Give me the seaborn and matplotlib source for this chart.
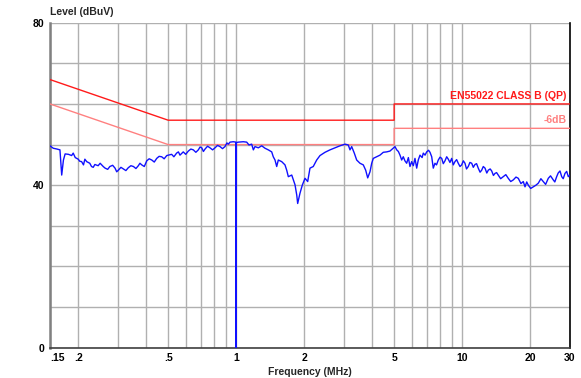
import matplotlib
matplotlib.use("Agg")
import matplotlib.pyplot as plt
import seaborn as sns
import pandas as pd
from matplotlib.ticker import FixedLocator, FixedFormatter, NullFormatter

# Measured conducted emission scan (frequency in MHz, level in dBuV)
freq_mhz = [
    0.150, 0.155, 0.161, 0.166, 0.169, 0.172, 0.175, 0.181, 0.187, 0.194,
    0.200, 0.207, 0.211, 0.218, 0.225, 0.229, 0.237, 0.245, 0.258, 0.263,
    0.276, 0.291, 0.301, 0.317, 0.333, 0.351, 0.369, 0.382, 0.402, 0.423,
    0.445, 0.468, 0.493, 0.518, 0.545, 0.564, 0.583, 0.614, 0.646, 0.680,
    0.704, 0.728, 0.766, 0.806, 0.848, 0.892, 0.923, 0.939, 0.971, 0.998,
    1.000, 1.002, 1.022, 1.075, 1.113, 1.139, 1.171, 1.191, 1.211, 1.253,
    1.297, 1.341, 1.387, 1.436, 1.459, 1.485, 1.511, 1.536, 1.590, 1.644,
    1.673, 1.701, 1.761, 1.790, 1.821, 1.853, 1.871, 1.915, 1.961, 2.016,
    2.072, 2.121, 2.193, 2.271, 2.349, 2.472, 2.601, 2.736, 2.880, 3.030,
    3.133, 3.188, 3.244, 3.331, 3.413, 3.530, 3.651, 3.741, 3.819, 3.909,
    3.978, 4.043, 4.185, 4.328, 4.476, 4.633, 4.791, 4.955, 5.043, 5.132,
    5.307, 5.399, 5.488, 5.681, 5.875, 5.978, 6.182, 6.291, 6.393, 6.506,
    6.729, 6.966, 7.205, 7.331, 7.449, 7.579, 7.839, 8.117, 8.394, 8.681,
    8.987, 9.134, 9.291, 9.609, 9.949, 10.29, 10.64, 11.02, 11.39, 11.78,
    12.20, 12.62, 13.05, 13.51, 13.97, 14.44, 15.20, 15.99, 16.83, 17.71,
    18.64, 18.97, 19.62, 20.64, 21.72, 22.85, 24.05, 25.30, 26.19, 27.09,
    27.57, 28.50, 29.49, 30.00,
]
level_dbuv = [
    49.7, 49.1, 48.9, 48.7, 42.5, 46.2, 47.7, 47.6, 47.3, 46.8,
    46.4, 45.8, 45.0, 45.8, 45.4, 44.6, 45.1, 44.8, 44.6, 44.2,
    44.6, 44.2, 43.7, 44.0, 44.3, 44.6, 44.8, 45.0, 46.0, 46.2,
    46.6, 47.0, 47.3, 47.6, 47.9, 47.4, 48.2, 48.4, 48.7, 48.7,
    49.2, 48.9, 49.2, 49.2, 49.5, 49.5, 50.1, 50.6, 50.7, 50.6,
    0.0, 50.5, 50.6, 50.7, 50.6, 49.9, 50.1, 48.7, 49.5, 49.2,
    49.7, 49.1, 48.7, 48.2, 47.0, 46.2, 44.6, 46.2, 45.8, 45.0,
    43.7, 42.1, 42.5, 41.3, 40.1, 37.6, 35.5, 38.0, 40.0, 41.7,
    40.9, 44.2, 44.6, 46.2, 47.3, 48.1, 48.7, 49.2, 49.7, 50.1,
    49.9, 48.7, 49.5, 47.9, 46.2, 45.4, 45.0, 43.7, 41.8, 43.3,
    45.4, 46.6, 47.0, 47.4, 48.1, 48.2, 48.4, 49.1, 49.5, 48.7,
    47.4, 46.2, 47.0, 45.4, 44.6, 45.8, 46.6, 44.2, 46.2, 47.4,
    47.9, 48.2, 48.1, 47.0, 44.2, 45.4, 46.2, 46.6, 46.0, 46.4,
    46.6, 45.0, 45.8, 45.4, 45.0, 45.4, 44.6, 45.4, 45.1, 44.2,
    43.7, 44.2, 43.7, 43.5, 42.9, 42.5, 42.1, 41.7, 41.3, 41.7,
    40.9, 39.6, 40.0, 39.6, 40.5, 40.9, 41.7, 41.3, 42.1, 43.5,
    42.1, 42.9, 42.1, 42.5,
]

# Extra readings between the main sweep points (ripple on the trace)
ripple_freq = [
    0.190, 0.203, 0.214, 0.233, 0.250, 0.270, 0.284, 0.296, 0.309, 0.325,
    0.342, 0.360, 0.375, 0.392, 0.412, 0.434, 0.456, 0.480,
    0.530, 0.555, 0.598, 0.630, 0.663, 0.692, 0.716, 0.747, 0.786, 0.827,
    0.870, 0.910,
    5.22, 5.58, 5.78, 6.08, 6.65, 6.85, 7.10, 7.70, 7.98, 8.25,
    8.54, 8.83, 9.45, 9.78, 10.12,
    10.45, 10.82, 11.20, 11.58, 12.00, 12.40, 12.85, 13.30, 13.75, 14.20,
    14.80, 15.60, 16.40, 17.30, 18.20, 19.30, 20.10, 21.20, 22.30, 23.40,
    24.60, 25.70, 26.60, 28.00, 29.00,
]
ripple_level = [
    47.9, 45.9, 46.4, 44.4, 45.4, 43.9, 44.9, 43.3, 44.4, 43.6,
    44.8, 44.1, 45.4, 44.6, 46.5, 45.7, 47.1, 46.5,
    47.0, 48.2, 47.6, 48.9, 48.1, 49.4, 48.3, 49.6, 48.7, 49.8,
    49.0, 50.4,
    48.3, 46.0, 46.8, 44.8, 46.8, 47.4, 48.6, 45.0, 46.9, 45.3,
    47.0, 45.6, 46.3, 44.6, 46.0,
    44.0, 45.6, 44.4, 45.3, 43.2, 44.6, 43.0, 44.0, 42.4, 43.1,
    41.6, 42.6, 40.9, 42.0, 40.4, 40.8, 39.2, 40.0, 41.6, 40.2,
    42.3, 40.8, 43.0, 41.6, 43.4,
]

# EN55022 class B quasi-peak limit and the -6 dB margin line
limit_freq = [0.15, 0.5, 5.0, 5.0, 30.0]
limit_qp = [66.0, 56.0, 56.0, 60.0, 60.0]
margin_db = 6.0
limit_margin = [v - margin_db for v in limit_qp]

x_tick_values = [0.15, 0.2, 0.5, 1, 2, 5, 10, 20, 30]
x_tick_labels = [".15", ".2", ".5", "1", "2", "5", "10", "20", "30"]
x_minor_grid = [0.3, 0.4, 0.6, 0.7, 0.8, 0.9, 3, 4, 6, 7, 8, 9]
y_grid = [0, 10, 20, 30, 40, 50, 60, 70, 80]
y_tick_labels = ["0", "", "", "", "40", "", "", "", "80"]

scan = pd.DataFrame({"freq": freq_mhz + ripple_freq,
                     "level": level_dbuv + ripple_level})
scan = scan.sort_values("freq").reset_index(drop=True)
limits = pd.DataFrame({"freq": limit_freq, "qp": limit_qp, "margin": limit_margin})

sns.set_theme(style="white")
plt.rcParams["font.family"] = ["Liberation Sans", "DejaVu Sans"]
plt.rcParams["font.weight"] = "bold"

W, H = 581, 378
fig = plt.figure(figsize=(W / 100, H / 100), dpi=100)
ax = fig.add_axes([50 / W, (H - 347.7) / H, 520 / W, 325 / H])

grid_col = "#b0b0b0"
sns.lineplot(data=limits, x="freq", y="margin", ax=ax, color="#ff8080",
             lw=1.0, sort=False, estimator=None, zorder=3)
sns.lineplot(data=limits, x="freq", y="qp", ax=ax, color="#ff1a1a",
             lw=1.0, sort=False, estimator=None, zorder=3)
sns.lineplot(data=scan, x="freq", y="level", ax=ax, color="#1010ff",
             lw=1.0, sort=False, estimator=None, zorder=4)

ax.set_xscale("log")
ax.set_xlim(0.15, 30)
ax.set_ylim(0, 80)

ax.xaxis.set_major_locator(FixedLocator(x_tick_values))
ax.xaxis.set_major_formatter(FixedFormatter(x_tick_labels))
ax.xaxis.set_minor_locator(FixedLocator(x_minor_grid))
ax.xaxis.set_minor_formatter(NullFormatter())
ax.yaxis.set_major_locator(FixedLocator(y_grid))
ax.yaxis.set_major_formatter(FixedFormatter(y_tick_labels))

ax.grid(True, which="both", color=grid_col, lw=1.0, zorder=0)
ax.set_axisbelow(True)
ax.tick_params(which="both", length=0)
ax.tick_params(axis="x", pad=4, labelsize=7.5)
ax.tick_params(axis="y", pad=4, labelsize=7.5)
for lab in ax.get_xticklabels() + ax.get_yticklabels():
    lab.set_fontweight("bold")
    lab.set_color("black")
ax.get_xticklabels()[0].set_horizontalalignment("left")

ax.set_xlabel("Frequency (MHz)", fontsize=7.5, fontweight="bold", labelpad=3)
ax.set_ylabel("")
ax.text(0.0, 1.018, "Level (dBuV)", transform=ax.transAxes, ha="left",
        va="bottom", fontsize=7.5, fontweight="bold")

ax.spines["top"].set_visible(False)
ax.spines["left"].set_color("#808080")
ax.spines["left"].set_linewidth(1.8)
ax.spines["bottom"].set_color("#404040")
ax.spines["bottom"].set_linewidth(1.2)
ax.spines["right"].set_color("black")
ax.spines["right"].set_linewidth(1.2)

ax.text(29.0, limit_qp[-1] + 0.8, "EN55022 CLASS B (QP)", ha="right",
        va="bottom", color="#ff1a1a", fontsize=7.5, fontweight="bold")
ax.text(29.0, limit_margin[-1] + 0.8, "-6dB", ha="right", va="bottom",
        color="#ff8080", fontsize=7.5, fontweight="bold")

fig.savefig("out.png", dpi=100, facecolor="white")
